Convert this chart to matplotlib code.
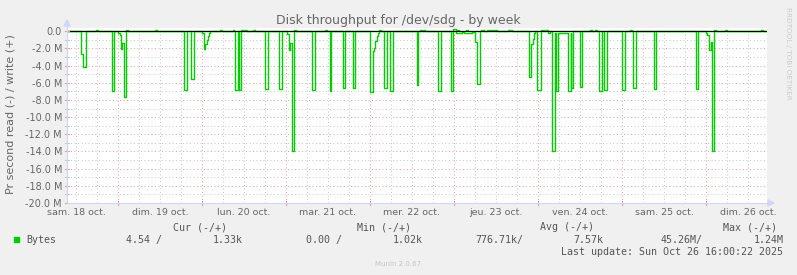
import matplotlib
matplotlib.use("Agg")
import matplotlib.pyplot as plt
from matplotlib.lines import Line2D
from matplotlib.patches import Polygon, Rectangle
import numpy as np

W, H = 797, 275

# ---------------- data (hours since Sat 18 Oct 2025 00:00, MB/s) ----------------
read_t = [9.4,
          13.4, 14.1, 14.9,
          22.2, 22.9,
          24.1, 24.6, 24.9, 25.2, 25.8, 26.4,
          42.9, 43.7,
          44.8, 45.8,
          48.1, 48.6, 49.0, 49.35, 49.65, 49.9, 50.3,
          57.4, 58.2,
          58.5, 59.1,
          66.0, 66.9,
          70.1, 71.0,
          72.2, 72.75, 73.1, 73.6, 74.3,
          79.5, 80.3,
          84.6, 85.0,
          88.2, 88.9,
          91.2, 91.7,
          96.1, 96.8, 97.15, 97.5, 97.9, 98.3, 98.7,
          100.1, 101.0,
          101.7, 102.6,
          109.3, 109.8,
          115.3, 116.2,
          119.1, 119.7,
          120.6, 121.5, 122.3, 123.0, 124.2, 125.2,
          126.1, 126.7, 127.5,
          141.5, 141.95, 142.5, 142.9, 143.1,
          143.6, 144.75,
          147.0, 147.5,
          147.9, 148.85, 149.1, 149.6, 152.6, 153.3, 153.55, 154.1,
          156.0, 156.6,
          161.4, 162.3,
          162.9, 163.8,
          167.9, 168.8,
          171.1, 172.0,
          177.2, 177.7,
          189.1, 189.8,
          192.0, 192.4, 192.85, 193.35, 193.85, 194.3,
          209.5]
read_mb = [0,
           2.6, 4.2, 0,
           6.9, 0,
           0.25, 0.45, 2.1, 1.35, 7.6, 0,
           6.8, 0,
           5.5, 0,
           0.25, 2.1, 1.5, 1.0, 0.55, 0.2, 0,
           6.8, 0,
           6.8, 0,
           6.7, 0,
           6.7, 0,
           0.35, 2.2, 1.4, 14.0, 0,
           6.85, 0,
           6.9, 0,
           6.55, 0,
           6.65, 0,
           7.1, 2.3, 1.9, 1.1, 0.5, 0.15, 0,
           6.65, 0,
           6.9, 0,
           6.3, 0,
           6.9, 0,
           7.0, 0,
           0.15, 0.2, 0.1, 0.2, 0.15, 0.1,
           1.2, 6.1, 0,
           5.3, 1.5, 0.9, 0.2, 0,
           6.8, 0,
           0.15, 0,
           14.0, 0.2, 6.95, 0.2, 6.95, 0.2, 6.6, 0,
           6.45, 0,
           6.9, 0,
           6.8, 0,
           6.8, 0,
           6.55, 0,
           6.7, 0,
           6.7, 0,
           0.15, 0.45, 2.2, 1.3, 14.0, 0,
           0]

write_t = [9.4,
           17.7, 18.2,
           26.4, 26.9,
           34.7, 35.2,
           53.1, 53.6,
           56.8, 57.2,
           59.2, 60.0, 60.9,
           62.7, 63.1,
           74.3, 74.9,
           83.1, 83.7,
           98.7, 99.1,
           110.3, 110.8, 111.2, 111.7,
           119.7, 120.5,
           121.0, 121.4,
           123.5, 124.0,
           127.6, 128.6, 129.4, 130.3, 131.2, 132.2,
           135.4, 136.0, 136.6,
           144.9, 145.6, 146.4, 147.0,
           158.9, 159.4,
           160.3, 160.8,
           170.3, 170.9,
           194.3, 194.9,
           197.4, 197.9,
           207.8, 208.2,
           209.5]
write_mb = [0,
            0.15, 0,
            0.15, 0,
            0.15, 0,
            0.15, 0,
            0.1, 0,
            0.15, 0.1, 0,
            0.1, 0,
            0.15, 0,
            0.2, 0,
            0.1, 0,
            0.15, 0.05, 0.2, 0,
            0.25, 0,
            0.1, 0,
            0.1, 0,
            0.15, 0.05, 0.15, 0.1, 0.15, 0,
            0.15, 0.1, 0,
            0.1, 0.2, 0.1, 0,
            0.15, 0,
            0.15, 0,
            0.15, 0,
            0.15, 0,
            0.15, 0,
            0.15, 0,
            0]

day_labels = ["sam. 18 oct.", "dim. 19 oct.", "lun. 20 oct.", "mar. 21 oct.",
              "mer. 22 oct.", "jeu. 23 oct.", "ven. 24 oct.", "sam. 25 oct.",
              "dim. 26 oct."]
label_hours = [12, 36, 60, 84, 108, 132, 156, 180, 204]
y_ticks = [0, -2, -4, -6, -8, -10, -12, -14, -16, -18, -20]
y_labels = ["0.0"] + ["%.1f M" % v for v in y_ticks[1:]]

legend_headers = ["Cur (-/+)", "Min (-/+)", "Avg (-/+)", "Max (-/+)"]
legend_values = ["4.54 /", "1.33k", "0.00 /", "1.02k", "776.71k/", "7.57k",
                 "45.26M/", "1.24M"]
title = "Disk throughput for /dev/sdg - by week"

# ---------------- style ----------------
BG = "#F0F0F0"
FONT = "#666666"
LEG = "#555555"
GREEN = "#00CC00"
AXIS = "#CFD6F8"
MGRID = "#E8A0A0"
GRID = "#C8C8C8"

fig = plt.figure(figsize=(W / 100, H / 100), dpi=100, facecolor=BG)
ax = fig.add_axes([67 / W, (H - 203) / H, 700 / W, 175 / H])
ax.set_facecolor("white")
x0, x1 = 9.43, 209.43
y0, y1 = -20.0, 0.385
ax.set_xlim(x0, x1)
ax.set_ylim(y0, y1)
for s in ax.spines.values():
    s.set_visible(False)

# grid
for h in range(12, 210, 6):
    col = MGRID if h % 24 == 0 else GRID
    ax.axvline(h, color=col, lw=0.72, ls=(0, (1, 2.5)), zorder=1)
for v in range(-19, 0):
    col = MGRID if v % 2 == 0 else GRID
    ax.axhline(v, color=col, lw=0.72, ls=(0, (1, 2.5)), zorder=1)

# data
ax.step(read_t, -np.array(read_mb), where="post", color=GREEN, lw=1.0, zorder=4)
ax.step(write_t, np.array(write_mb), where="post", color=GREEN, lw=1.0, zorder=4)
ax.axhline(0, color="black", lw=0.8, zorder=5)

# ticks and labels
ax.set_yticks(y_ticks)
ax.set_yticklabels(y_labels)
ax.tick_params(axis="y", length=0, pad=3.6, labelsize=7, labelcolor=FONT)
ax.set_xticks(label_hours)
ax.set_xticklabels(day_labels)
ax.tick_params(axis="x", length=0, pad=3.5, labelsize=6.8, labelcolor=FONT)

px_y = (y1 - y0) / 175.0
px_x = (x1 - x0) / 700.0
for h in range(24, 210, 24):
    ax.plot([h, h], [y0 - 2 * px_y, y0 + 2 * px_y], color=MGRID, lw=0.8,
            clip_on=False, zorder=6)
for v in range(-20, 1):
    col = MGRID if v % 2 == 0 else GRID
    ax.plot([x0 - 2 * px_x, x0 + 2 * px_x], [v, v], color=col, lw=0.8,
            clip_on=False, zorder=6)

# axes lines and arrows (figure pixel coords)
def fx(x):
    return x / W


def fy(y):
    return 1 - y / H


fig.add_artist(Line2D([fx(67), fx(67)], [fy(203), fy(24)], color=AXIS, lw=0.8))
fig.add_artist(Line2D([fx(67), fx(770)], [fy(203), fy(203)], color=AXIS, lw=0.8))
fig.add_artist(Polygon([[fx(67), fy(20)], [fx(64), fy(26)], [fx(70), fy(26)]],
                       closed=True, color=AXIS, transform=fig.transFigure))
fig.add_artist(Polygon([[fx(774), fy(203)], [fx(768), fy(200)], [fx(768), fy(206)]],
                       closed=True, color=AXIS, transform=fig.transFigure))

# texts
fig.text(fx(398), fy(24), title, ha="center", va="baseline", fontsize=9, color=FONT)
fig.text(fx(11), fy(114), "Pr second read (-) / write (+)", rotation=90,
         ha="center", va="center", fontsize=8, color=FONT)
fig.text(fx(788), fy(53), "RRDTOOL / TOBI OETIKER", rotation=-90, ha="center",
         va="center", fontsize=5.2, color="#CCCCCC")
fig.text(fx(398), fy(264), "Munin 2.0.67", ha="center", va="center",
         fontsize=5, color="#C4C4C4")

mono = "DejaVu Sans Mono"
for txt, x in zip(legend_headers, [173, 357, 540, 723]):
    fig.text(fx(x), fy(227), txt, ha="left", va="center", fontsize=7.2,
             family=mono, color=LEG)
fig.add_artist(Rectangle((fx(14), fy(242)), 5 / W, 5 / H, color=GREEN,
                         transform=fig.transFigure))
fig.text(fx(26), fy(240), "Bytes", ha="left", va="center", fontsize=7.2,
         family=mono, color=LEG)
for txt, x in zip(legend_values, [126, 212.5, 306, 393, 475, 573, 661, 754]):
    fig.text(fx(x), fy(240), txt, ha="left", va="center", fontsize=7.2,
             family=mono, color=LEG)
fig.text(fx(783), fy(252), "Last update: Sun Oct 26 16:00:22 2025", ha="right",
         va="center", fontsize=7.2, family=mono, color=LEG)

fig.savefig("out.png", dpi=100, facecolor=BG)
